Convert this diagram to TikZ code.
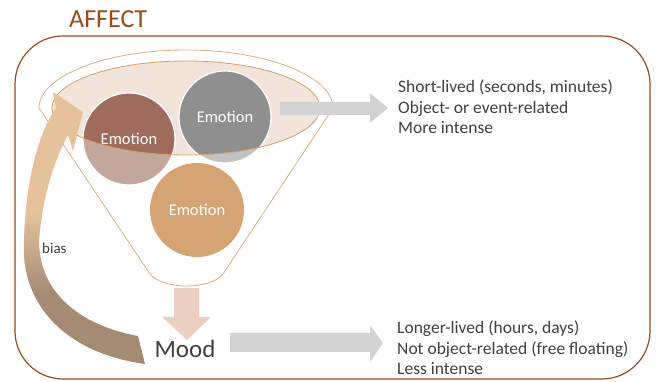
\documentclass[tikz,border=0pt]{standalone}
\usepackage{fontspec}
\setmainfont{Carlito}
\definecolor{framec}{HTML}{9C4A1A}
\definecolor{funnelc}{HTML}{D9AE80}
\definecolor{ellfill}{HTML}{F2E4DA}
\definecolor{ellline}{HTML}{D4A06A}
\definecolor{browndk}{HTML}{9E6B5C}
\definecolor{brownlt}{HTML}{C4A79C}
\definecolor{graydk}{HTML}{8F8F8F}
\definecolor{graylt}{HTML}{C2C2C2}
\definecolor{orangec}{HTML}{D6A473}
\definecolor{pinkc}{HTML}{EBCFC3}
\definecolor{arrowgray}{HTML}{D3D3D3}
\definecolor{textc}{HTML}{404040}
\definecolor{tanc}{HTML}{E6C29C}
\definecolor{biasbr}{HTML}{A68B74}
\pgfdeclareverticalshading{biasgrad}{100bp}{color(0bp)=(biasbr); color(25bp)=(biasbr); color(38bp)=(biasbr); color(53bp)=(tanc); color(75bp)=(tanc); color(100bp)=(tanc)}
\tikzset{
  emo/.style={text=white, font=\fontsize{16.5}{19}\selectfont, inner sep=0pt},
  desc/.style={text=textc, font=\fontsize{17.5}{20}\selectfont, anchor=base west, inner sep=0pt},
  circedge/.style={draw=white, line width=1.2pt},
}
\begin{document}
\begin{tikzpicture}[x=1pt,y=-1pt]
\useasboundingbox (0,0) rectangle (657,382);
% frame
\draw[framec, line width=1.2pt, rounded corners=48pt] (15,36) rectangle (650,379);
\node[text=framec, font=\fontsize{26}{30}\selectfont, anchor=base west, inner sep=0pt] (affect) at (69,28) {AFFECT};
% funnel outline
\draw[funnelc, line width=0.8pt] (39,108) .. controls (39,76) and (106,50) .. (186,50)
  .. controls (266,50) and (333,76) .. (333,108) -- (223,274)
  .. controls (210,290) and (163,290) .. (150,274) -- cycle;
% inner ellipse fill
\fill[ellfill] (186,108) ellipse [x radius=134pt, y radius=47pt];
% circles: light parts
\fill[brownlt] (129,139) circle [radius=46pt];
\fill[graylt] (225,117) circle [radius=46pt];
\begin{scope}
  \clip (186,108) ellipse [x radius=134pt, y radius=47pt];
  \fill[browndk] (129,139) circle [radius=46pt];
  \fill[graydk] (225,117) circle [radius=46pt];
\end{scope}
\draw[circedge] (129,139) circle [radius=46pt];
\draw[circedge] (225,117) circle [radius=46pt];
\fill[orangec] (197,210) circle [radius=47pt];
% ellipse edge
\draw[ellline, line width=0.8pt] (186,108) ellipse [x radius=134pt, y radius=47pt];
\node[emo] (e1) at (129,139) {Emotion};
\node[emo] (e2) at (225,117) {Emotion};
\node[emo] (e3) at (197,210) {Emotion};
% bias arrow
\shade[shading=biasgrad] (145,364) .. controls (60,352) and (20,300) .. (24,240)
  .. controls (26,170) and (42,128) .. (56,108)
  -- (53,92) -- (83,112) -- (73,151) -- (68,135)
  .. controls (53,163) and (42,200) .. (39,242)
  .. controls (40,296) and (84,326) .. (138,336) -- cycle;
\node[text=textc, font=\fontsize{15}{18}\selectfont, anchor=west, inner sep=0pt] (bias) at (42,248) {bias};
% top gray arrow
\fill[arrowgray] (280,102) -- (370,102) -- (370,93) -- (388,108) -- (370,123) -- (370,115) -- (280,115) -- cycle;
% down arrow
\fill[pinkc] (174,288) -- (199,288) -- (199,317) -- (211,317) -- (187,340) -- (162,317) -- (174,317) -- cycle;
% mood
\node[text=textc, font=\fontsize{25}{30}\selectfont, anchor=base, inner sep=0pt] (mood) at (185,358) {Mood};
\fill[arrowgray] (230,333) -- (370,333) -- (370,325) -- (383,343) -- (370,362) -- (370,352) -- (230,352) -- cycle;
% descriptions
\node[desc] (s1) at (398,93) {Short-lived (seconds, minutes)};
\node[desc] (s2) at (398,113.5) {Object- or event-related};
\node[desc] (s3) at (398,134) {More intense};
\node[desc] (l1) at (397,334) {Longer-lived (hours, days)};
\node[desc] (l2) at (397,354.5) {Not object-related (free floating)};
\node[desc] (l3) at (397,375) {Less intense};
\end{tikzpicture}
\end{document}
